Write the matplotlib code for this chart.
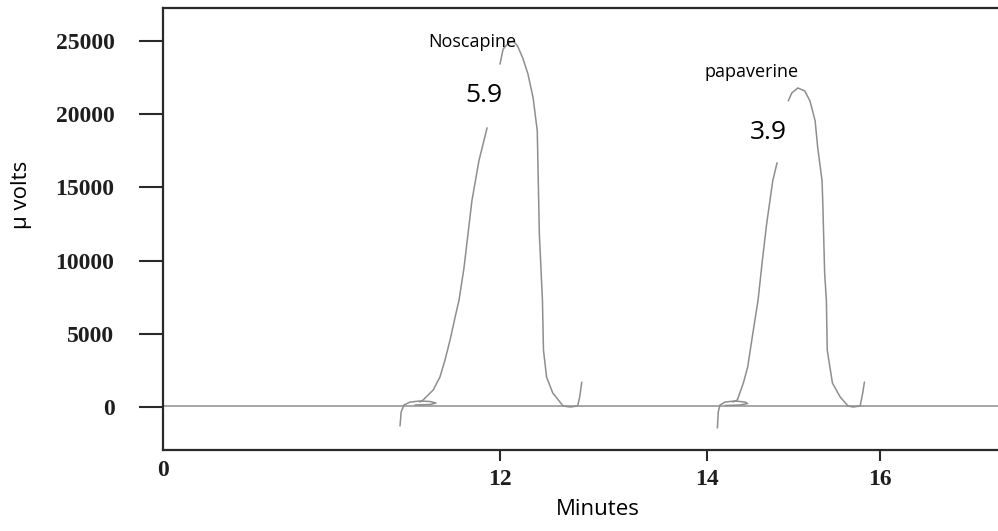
import numpy as np
import matplotlib
matplotlib.use("Agg")
import matplotlib.pyplot as plt

# retention time axis is broken between 0 and 12 min, so the scale is piecewise
axis_minutes = [-100, 0, 12, 14, 16, 100]
axis_units = [163 - 100 * 28.08, 163, 500, 707, 880, 880 + 84 * 86.5]


def fwd(x):
    return np.interp(x, axis_minutes, axis_units)


def inv(u):
    return np.interp(u, axis_units, axis_minutes)


# detector baseline
base_t = [0, 17.4]
base_v = [100, 100]

# noscapine: integrator start mark, rising flank, top + tail
nos_mark_t = [8.44, 8.48, 8.58, 8.80, 9.15, 9.51, 9.72, 9.51, 8.97]
nos_mark_v = [-1294, -340, 136, 340, 409, 375, 272, 170, 136]
nos_rise_t = [9.15, 9.26, 9.62, 9.86, 10.04, 10.22, 10.40, 10.54, 10.72, 11.00, 11.25, 11.54]
nos_rise_v = [340, 477, 1158, 2043, 3200, 4563, 6129, 7287, 9534, 14097, 16821, 19068]
nos_top_t = [12.00, 12.03, 12.08, 12.13, 12.17, 12.22, 12.27, 12.32, 12.36, 12.38, 12.41,
             12.42, 12.45, 12.51, 12.61, 12.68, 12.75, 12.77, 12.79]
nos_top_v = [23426, 24448, 24857, 24993, 24652, 23835, 22745, 21111, 18863, 11849, 7287,
             3882, 2043, 953, 68, 0, 68, 681, 1703]

# papaverine
pap_mark_t = [14.12, 14.13, 14.15, 14.21, 14.32, 14.44, 14.47, 14.38, 14.21]
pap_mark_v = [-1430, -340, 136, 340, 409, 340, 238, 136, 102]
pap_rise_t = [14.30, 14.35, 14.42, 14.47, 14.53, 14.59, 14.64, 14.69, 14.76, 14.81]
pap_rise_v = [340, 477, 1634, 2724, 5040, 7287, 10011, 12530, 15459, 16685]
pap_top_t = [14.94, 14.98, 15.05, 15.13, 15.19, 15.25, 15.28, 15.33, 15.34, 15.36, 15.38,
             15.39, 15.45, 15.54, 15.63, 15.69, 15.77, 15.80, 15.82]
pap_top_v = [20907, 21452, 21792, 21588, 20907, 19545, 17706, 15459, 13620, 9125, 7287,
             3882, 1634, 681, 68, 0, 68, 953, 1703]

y_ticks = [0, 5000, 10000, 15000, 20000, 25000]
x_ticks = [12, 14, 16]

fig = plt.figure(figsize=(9.98, 5.31), dpi=100)
ax = fig.add_axes([163 / 998, 81 / 531, 835 / 998, 442 / 531])
ax.set_xscale("function", functions=(fwd, inv))

trace = dict(color="#8e8e8e", lw=1.1, solid_capstyle="round")
ax.plot(base_t, base_v, **trace)
for t, v in [(nos_mark_t, nos_mark_v), (nos_rise_t, nos_rise_v), (nos_top_t, nos_top_v),
             (pap_mark_t, pap_mark_v), (pap_rise_t, pap_rise_v), (pap_top_t, pap_top_v)]:
    ax.plot(t, v, **trace)

ax.set_xlim(0, 17.364)
ax.set_ylim(-2937, 27254)

for s in ["left", "top", "bottom"]:
    ax.spines[s].set_linewidth(1.6)
    ax.spines[s].set_color("#2a2a2a")
ax.spines["right"].set_visible(False)

serif_bold = dict(family="Liberation Serif", weight="bold", size=17)
ax.set_yticks(y_ticks)
ax.set_yticklabels([str(v) for v in y_ticks], **serif_bold, color="#1e1e1e")
ax.set_xticks(x_ticks)
ax.set_xticklabels([str(v) for v in x_ticks], **serif_bold, color="#1e1e1e")
ax.set_xticks([0], ["0"], minor=True)
for lab in ax.get_xticklabels(minor=True):
    lab.set(**serif_bold, color="#1e1e1e")

ax.tick_params(axis="y", direction="out", length=17, width=1.5, pad=18, color="#2a2a2a")
ax.tick_params(axis="x", which="major", direction="out", length=8, width=1.5, pad=6,
               color="#2a2a2a")
ax.tick_params(axis="x", which="minor", length=0, pad=7)

sans = ["Open Sans", "DejaVu Sans"]
ax.set_xlabel("Minutes", family=sans, size=16)
ax.xaxis.set_label_coords(0.521, -0.11)
ax.set_ylabel("\u03bc volts", family=sans, size=16)
ax.yaxis.set_label_coords(-131 / 835, 0.577)

ax.text(11.03, 24930, "Noscapine", family=sans, size=13, ha="center", va="center")
ax.text(11.43, 21310, "5.9", family=sans, size=19, ha="center", va="center")
ax.text(14.52, 22880, "papaverine", family=sans, size=13, ha="center", va="center")
ax.text(14.71, 18780, "3.9", family=sans, size=19, ha="center", va="center")

fig.savefig("out.png", dpi=100)
